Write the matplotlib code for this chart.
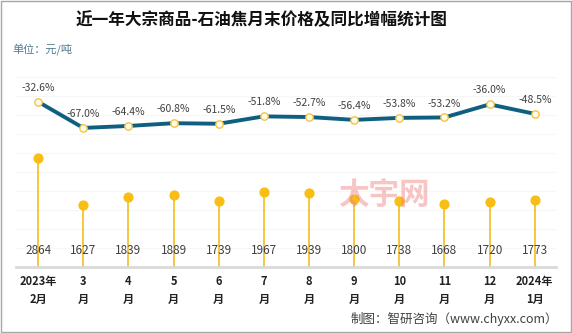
import matplotlib
matplotlib.use("Agg")
import matplotlib.pyplot as plt
from matplotlib.patches import Rectangle

plt.rcParams['font.family'] = ['Noto Sans CJK SC', 'DejaVu Sans']

months = ['2023年\n2月', '3\n月', '4\n月', '5\n月', '6\n月', '7\n月',
          '8\n月', '9\n月', '10\n月', '11\n月', '12\n月', '2024年\n1月']
price = [2864, 1627, 1839, 1889, 1739, 1967, 1939, 1800, 1738, 1668, 1720, 1773]
yoy = [-32.6, -67.0, -64.4, -60.8, -61.5, -51.8, -52.7, -56.4, -53.8, -53.2, -36.0, -48.5]

fig = plt.figure(figsize=(5.72, 3.33), dpi=100)
fig.patches.append(Rectangle((0.002, 0.003), 0.996, 0.994, transform=fig.transFigure,
                             fill=False, edgecolor='#A6A6A6', linewidth=1))

ax = fig.add_axes([16 / 572, 66 / 333, 540 / 572, 190 / 333])
x = list(range(len(months)))

# faint grid
for g in range(500, 5001, 500):
    ax.axhline(g, color='#F6F6F6', linewidth=0.8, zorder=0)

# lollipops
ax.vlines(x, 0, price, color='#F5C12E', linewidth=1.3, zorder=2)
ax.scatter(x, price, s=40, color='#F9BE14', zorder=3)
for i, v in enumerate(price):
    ax.text(i, 0.088, str(v), transform=ax.get_xaxis_transform(), ha='center', va='center',
            fontsize=8.5, color='#404040', zorder=4)

ax.set_ylim(0, 5000)
ax.set_xlim(-0.49, 11.47)
ax.set_yticks([])
ax.set_xticks(x)
ax.set_xticklabels(months, fontsize=8, fontweight='bold', color='#222222', linespacing=1.5)
ax.tick_params(axis='x', length=0, pad=6)
for s in ['top', 'right', 'left']:
    ax.spines[s].set_visible(False)
ax.spines['bottom'].set_color('#D9D9D9')
ax.spines['bottom'].set_linewidth(2)

# yoy line
ax2 = ax.twinx()
ax2.plot(x, yoy, color='#0F5F80', linewidth=2.8, zorder=5)
ax2.scatter(x, yoy, s=28, facecolor='#FFFBE6', edgecolor='#F5C342', linewidth=1, zorder=6)
for i, v in enumerate(yoy):
    ax2.annotate(f'{v:.1f}%', (i, v), xytext=(0, 10), textcoords='offset points',
                 ha='center', va='center', fontsize=7.5, color='#404040')
ax2.set_ylim(-250, 0)
ax2.set_yticks([])
for s in ax2.spines.values():
    s.set_visible(False)

# watermark
fig.text(0.672, 0.415, '太宇网', fontsize=22, fontweight='bold', color='#F08080',
         alpha=0.45, ha='center', va='center')

fig.text(262 / 572, 1 - 20 / 333, '近一年大宗商品-石油焦月末价格及同比增幅统计图', fontsize=12,
         fontweight='bold', ha='center', va='center', color='#111111')
fig.text(12 / 572, 1 - 50 / 333, '单位：元/吨', fontsize=8, color='#4F7A8E',
         ha='left', va='center')
fig.text(558 / 572, 1 - 319 / 333, '制图：智研咨询（www.chyxx.com）', fontsize=9,
         color='#404040', ha='right', va='center')

fig.savefig('out.png', dpi=100)
